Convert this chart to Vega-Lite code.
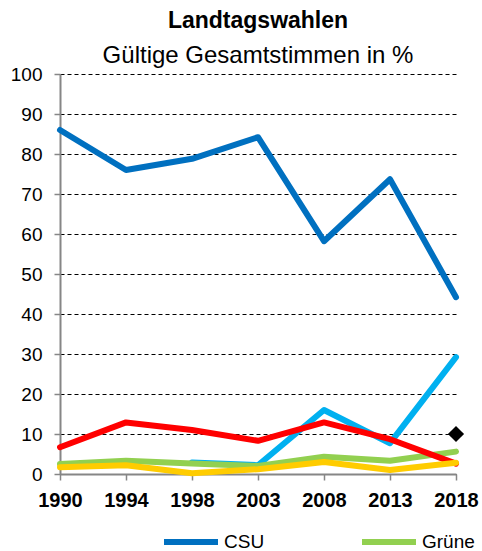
{
  "$schema": "https://vega.github.io/schema/vega-lite/v6.json",
  "autosize": "none",
  "width": 396,
  "height": 400,
  "padding": {"left": 60, "top": 74, "right": 26, "bottom": 77},
  "background": "white",
  "title": {
    "text": "Landtagswahlen",
    "subtitle": "Gültige Gesamtstimmen in %",
    "anchor": "middle",
    "font": "Liberation Sans",
    "fontSize": 23,
    "fontWeight": "bold",
    "color": "black",
    "subtitleFont": "Liberation Sans",
    "subtitleFontSize": 24,
    "subtitleColor": "black",
    "subtitlePadding": 11,
    "offset": -3
  },
  "config": {
    "view": {"stroke": null},
    "font": "Liberation Sans"
  },
  "data": {
    "values": [
      {"year": "1998", "party": "Freie Wähler", "value": 2.9},
      {"year": "2003", "party": "Freie Wähler", "value": 2.2},
      {"year": "2008", "party": "Freie Wähler", "value": 16.0},
      {"year": "2013", "party": "Freie Wähler", "value": 7.7},
      {"year": "2018", "party": "Freie Wähler", "value": 29.2},
      {"year": "1990", "party": "Grüne", "value": 2.5},
      {"year": "1994", "party": "Grüne", "value": 3.3},
      {"year": "1998", "party": "Grüne", "value": 2.6},
      {"year": "2003", "party": "Grüne", "value": 2.0},
      {"year": "2008", "party": "Grüne", "value": 4.3},
      {"year": "2013", "party": "Grüne", "value": 3.3},
      {"year": "2018", "party": "Grüne", "value": 5.6},
      {"year": "1990", "party": "SPD", "value": 6.7},
      {"year": "1994", "party": "SPD", "value": 12.9},
      {"year": "1998", "party": "SPD", "value": 11.0},
      {"year": "2003", "party": "SPD", "value": 8.3},
      {"year": "2008", "party": "SPD", "value": 12.9},
      {"year": "2013", "party": "SPD", "value": 8.7},
      {"year": "2018", "party": "SPD", "value": 2.6},
      {"year": "1990", "party": "FDP", "value": 1.7},
      {"year": "1994", "party": "FDP", "value": 2.2},
      {"year": "1998", "party": "FDP", "value": 0.2},
      {"year": "2003", "party": "FDP", "value": 1.2},
      {"year": "2008", "party": "FDP", "value": 3.0},
      {"year": "2013", "party": "FDP", "value": 1.0},
      {"year": "2018", "party": "FDP", "value": 2.8},
      {"year": "1990", "party": "CSU", "value": 86.0},
      {"year": "1994", "party": "CSU", "value": 76.0},
      {"year": "1998", "party": "CSU", "value": 78.8},
      {"year": "2003", "party": "CSU", "value": 84.2},
      {"year": "2008", "party": "CSU", "value": 58.2},
      {"year": "2013", "party": "CSU", "value": 73.7},
      {"year": "2018", "party": "CSU", "value": 44.2},
      {"year": "2018", "party": "AfD", "value": 10.0}
    ]
  },
  "encoding": {
    "x": {
      "field": "year",
      "type": "ordinal",
      "scale": {"type": "point", "padding": 0, "domain": ["1990", "1994", "1998", "2003", "2008", "2013", "2018"]},
      "axis": {
        "title": null,
        "labelAngle": 0,
        "labelFont": "Liberation Sans",
        "labelFontSize": 20,
        "labelFontWeight": "bold",
        "labelColor": "black",
        "labelPadding": 10,
        "tickSize": 6,
        "tickColor": "#868686",
        "tickWidth": 1.5,
        "domainColor": "#868686",
        "domainWidth": 2,
        "grid": false
      }
    },
    "y": {
      "field": "value",
      "type": "quantitative",
      "scale": {"domain": [0, 100], "nice": false},
      "axis": {
        "title": null,
        "values": [0, 10, 20, 30, 40, 50, 60, 70, 80, 90, 100],
        "labelFont": "Liberation Sans",
        "labelFontSize": 19,
        "labelColor": "black",
        "labelPadding": 12,
        "tickSize": 6,
        "tickColor": "#868686",
        "tickWidth": 1.5,
        "domainColor": "#868686",
        "domainWidth": 2,
        "grid": true,
        "gridColor": "black",
        "gridDash": [4, 3],
        "gridWidth": 1
      }
    }
  },
  "layer": [
    {
      "transform": [{"filter": "datum.party !== 'AfD'"}],
      "mark": {"type": "line", "strokeWidth": 6, "strokeCap": "round", "strokeJoin": "round"},
      "encoding": {
        "color": {
          "field": "party",
          "type": "nominal",
          "scale": {
            "domain": ["CSU", "Grüne", "SPD", "FDP", "Freie Wähler"],
            "range": ["#0070C0", "#92D050", "#FF0000", "#FFCC00", "#00B0F0"]
          },
          "legend": {
            "values": ["CSU", "Grüne"],
            "title": null,
            "orient": "none",
            "legendX": 101,
            "legendY": 438,
            "direction": "horizontal",
            "columns": 2,
            "columnPadding": 85,
            "padding": 0,
            "symbolType": "stroke",
            "symbolSize": 2916,
            "symbolStrokeWidth": 6,
            "labelFont": "Liberation Sans",
            "labelFontSize": 19,
            "labelColor": "black",
            "labelOffset": 3
          }
        }
      }
    },
    {
      "transform": [{"filter": "datum.party === 'AfD'"}],
      "mark": {"type": "point", "shape": "diamond", "filled": true, "color": "black", "size": 260, "opacity": 1}
    }
  ]
}
